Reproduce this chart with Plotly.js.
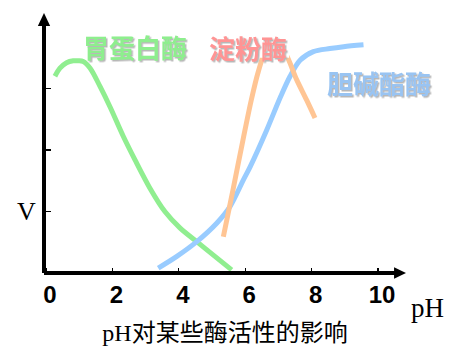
<!DOCTYPE html>
<html><head><meta charset="utf-8">
<script src="https://cdn.plot.ly/plotly-3.0.1.min.js"></script>
<style>html,body{margin:0;padding:0;background:#fff;}</style>
</head><body><div id="chart" style="width:461px;height:362px;"></div>
<script>
// Pepsin (胃蛋白酶)
const pepsinPH = [0.27, 0.42, 0.62, 0.82, 0.97, 1.12, 1.33, 1.63, 1.93, 2.33, 2.68, 3.13, 3.58, 4.04, 4.54, 5.04, 5.59];
const pepsinV  = [3.20, 3.33, 3.42, 3.45, 3.45, 3.44, 3.33, 3.03, 2.70, 2.22, 1.84, 1.38, 1.00, 0.73, 0.51, 0.29, 0.05];
// Amylase (淀粉酶)
const amylasePH = [5.34, 5.63, 5.93, 6.18, 6.39, 6.60, 6.90, 7.20, 7.55, 7.85, 8.10];
const amylaseV  = [0.59, 1.35, 2.16, 2.81, 3.27, 3.59, 3.74, 3.58, 3.14, 2.81, 2.52];
// Cholinesterase (胆碱酯酶)
const cholinePH = [3.38, 3.94, 4.54, 5.14, 5.54, 5.94, 6.15, 6.65, 7.05, 7.35, 7.65, 8.05, 8.55, 8.96, 9.56];
const cholineV  = [0.08, 0.27, 0.51, 0.81, 1.08, 1.51, 1.73, 2.33, 2.85, 3.20, 3.46, 3.60, 3.65, 3.68, 3.71];

const xTicks = [0, 2, 4, 6, 8, 10];
const yTicks = [1, 2, 3];
const labels = ["胃蛋白酶", "淀粉酶", "胆碱酯酶"];
const captionText = "pH对某些酶活性的影响";
const xName = "pH";
const yName = "V";

const cGreen = "#90EE90", cOrange = "#FFC594", cBlue = "#99CCFF";

function tr(x, y, c) {
  return {x: x, y: y, type: "scatter", mode: "lines",
    line: {color: c, width: 5, shape: "spline", smoothing: 0.9}, hoverinfo: "skip", showlegend: false};
}
const data = [tr(pepsinPH, pepsinV, cGreen), tr(cholinePH, cholineV, cBlue), tr(amylasePH, amylaseV, cOrange)];

const cjk = "Noto Sans CJK SC";
function lab(text, x, y, color) {
  return {x: x, y: y, xref: "x", yref: "y", text: text, showarrow: false,
     font: {family: cjk, size: 26, color: color, weight: "bold"}, borderpad: 0};
}

const annotations = [
  lab(labels[0], 2.68, 3.68, "#8EEE8E"),
  lab(labels[1], 6.07, 3.66, "#FF9494"),
  lab(labels[2], 10.03, 3.09, "#99C4F2"),
  {x: -0.048, xref: "paper", xanchor: "center", y: 1.0, yref: "y", yanchor: "middle", text: yName, showarrow: false,
   font: {family: "Liberation Serif", size: 26, color: "#000"}},
  {x: 1.06, xref: "paper", xanchor: "center", y: -0.135, yref: "paper", yanchor: "middle", text: xName, showarrow: false,
   font: {family: "Liberation Serif", size: 27, color: "#000"}}
];

const shapes = [
  // white backing behind the 淀粉酶 label (hides the curve under the text)
  {type: "rect", xref: "x", yref: "y", x0: 4.85, x1: 7.32, y0: 3.50, y1: 3.84, layer: "above",
   fillcolor: "#ffffff", line: {width: 0}},
  {type: "line", xref: "paper", yref: "paper", x0: 0, x1: 0.975, y0: 0, y1: 0, line: {color: "#000", width: 4}},
  {type: "line", xref: "paper", yref: "paper", x0: 0, x1: 0, y0: 0, y1: 0.96, line: {color: "#000", width: 4}},
  {type: "path", xref: "paper", yref: "paper", path: "M 0.967 0.022 L 1 0 L 0.967 -0.022 Z", fillcolor: "#000", line: {width: 0}},
  {type: "path", xref: "paper", yref: "paper", path: "M -0.017 0.95 L 0 1 L 0.017 0.95 Z", fillcolor: "#000", line: {width: 0}}
];

const layout = {
  width: 461, height: 362,
  margin: {l: 44, r: 55, t: 13, b: 89},
  paper_bgcolor: "#fff", plot_bgcolor: "#fff",
  showlegend: false,
  xaxis: {range: [-0.06, 10.84], tickvals: xTicks, ticktext: xTicks.map(String),
    ticks: "inside", ticklen: 5, tickwidth: 1.3, tickcolor: "#000",
    showgrid: false, zeroline: false, showline: false, ticklabelshift: 4, ticklabelstandoff: 5,
    tickfont: {family: "Liberation Sans", size: 24, color: "#000", weight: "bold"},
    title: {text: captionText, font: {family: "Liberation Serif, " + cjk, size: 24, color: "#000"}, standoff: 17}},
  yaxis: {range: [0, 4.228], tickvals: yTicks, showticklabels: false,
    ticks: "inside", ticklen: 7, tickwidth: 1.3, tickcolor: "#000",
    showgrid: false, zeroline: false, showline: false},
  shapes: shapes,
  annotations: annotations
};

Plotly.newPlot("chart", data, layout, {displayModeBar: false, staticPlot: true}).then(function (gd) {
  const svg = gd.querySelector("svg.main-svg");
  const ns = "http://www.w3.org/2000/svg";
  let defs = svg.querySelector("defs");
  if (!defs) { defs = document.createElementNS(ns, "defs"); svg.insertBefore(defs, svg.firstChild); }
  const f = document.createElementNS(ns, "filter");
  f.setAttribute("id", "txtShadow");
  f.setAttribute("x", "-10%"); f.setAttribute("y", "-20%");
  f.setAttribute("width", "130%"); f.setAttribute("height", "150%");
  const ds = document.createElementNS(ns, "feDropShadow");
  ds.setAttribute("dx", "1.5"); ds.setAttribute("dy", "1.5");
  ds.setAttribute("stdDeviation", "0.6");
  ds.setAttribute("flood-color", "#b8b8b8");
  ds.setAttribute("flood-opacity", "1");
  f.appendChild(ds);
  defs.appendChild(f);
  gd.querySelectorAll("text.annotation-text").forEach(function (t) {
    if (labels.indexOf(t.textContent) >= 0) t.setAttribute("filter", "url(#txtShadow)");
  });
});
</script></body></html>
